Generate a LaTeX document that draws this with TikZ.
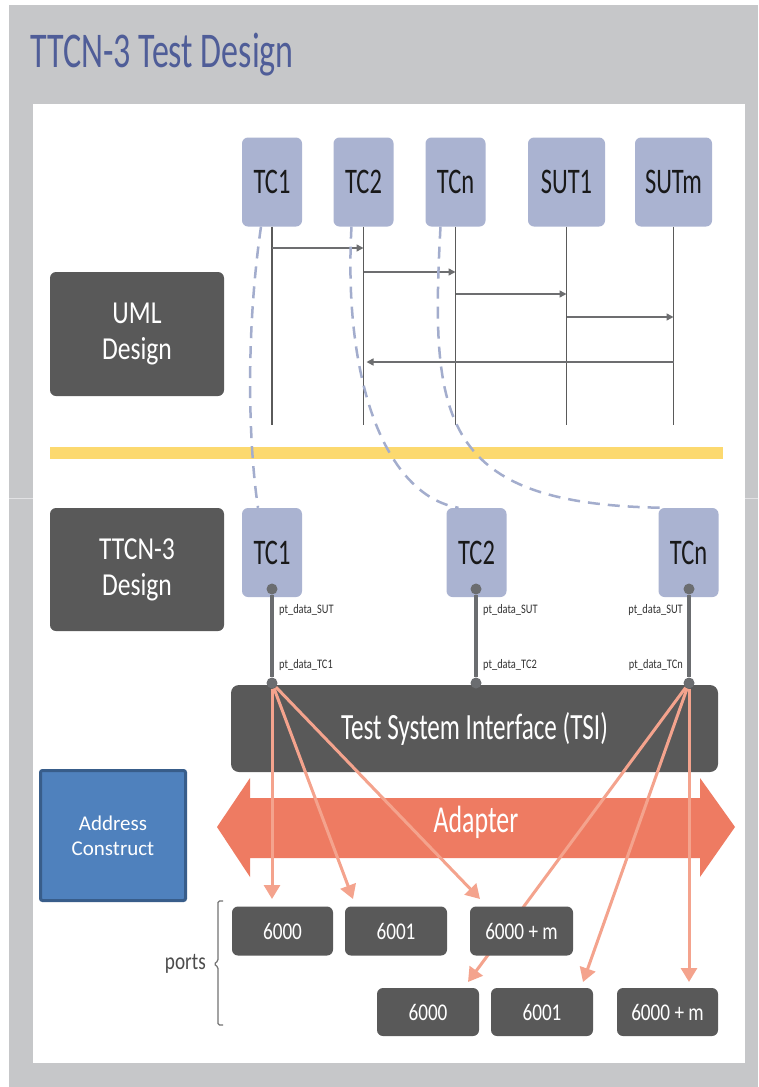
\documentclass[tikz,border=0pt]{standalone}
\usepackage{fontspec}
\setmainfont{Carlito}
\newfontfamily\slidefont[FakeStretch=0.68]{Carlito}
\newfontfamily\labelfont[FakeStretch=0.8]{Carlito}
\usetikzlibrary{arrows.meta}

\definecolor{slidegray}{HTML}{C6C7C9}
\definecolor{seamgray}{HTML}{E2E2E4}
\definecolor{titleblue}{HTML}{4F5D98}
\definecolor{lavender}{HTML}{AAB3D1}
\definecolor{tracelav}{HTML}{A3ADCD}
\definecolor{boxgray}{HTML}{595959}
\definecolor{lifegray}{HTML}{5A5A5A}
\definecolor{msggray}{HTML}{6D6E70}
\definecolor{dotgray}{HTML}{6B6D70}
\definecolor{baryellow}{HTML}{FCD96F}
\definecolor{adapterorange}{HTML}{EE7B62}
\definecolor{salmon}{HTML}{F4A38D}
\definecolor{acblue}{HTML}{4F81BD}
\definecolor{acborder}{HTML}{385D8A}

\tikzset{
  lifebox/.style={fill=lavender, rounded corners=6pt, minimum width=60pt, minimum height=89pt,
    inner sep=0pt, text=black!90, font=\slidefont\fontsize{36}{36}\selectfont},
  sutbox/.style={lifebox, minimum width=77pt},
  layerbox/.style={fill=boxgray, rounded corners=6pt, minimum width=174pt, minimum height=124pt,
    inner sep=0pt, align=center, text=white, font=\labelfont\fontsize{32}{36}\selectfont},
  portbox/.style={fill=boxgray, rounded corners=6pt, minimum width=102pt, minimum height=49pt,
    inner sep=0pt, text=white, font=\labelfont\fontsize{24}{24}\selectfont},
  lifeline/.style={draw=lifegray, line width=1.1pt},
  msg/.style={draw=msggray, line width=1.5pt, -{Triangle[length=7pt,width=7pt]}},
  trace/.style={draw=tracelav, line width=2.5pt, dash pattern=on 12pt off 8pt},
  portdot/.style={circle, fill=dotgray, minimum size=11pt, inner sep=0pt},
  portline/.style={draw=dotgray, line width=3.5pt},
  portlabel/.style={inner sep=0pt, text=black!80, font=\labelfont\fontsize{13}{13}\selectfont},
  portarrow/.style={draw=salmon, line width=3pt, -{Triangle[length=14pt,width=16pt]}}
}

\begin{document}
\begin{tikzpicture}[x=1pt, y=-1pt]
  \useasboundingbox (0,0) rectangle (758,1087);
  \fill[slidegray] (9,5) rectangle (758,1087);
  \fill[white] (33,104) rectangle (745,1063);
  \draw[seamgray, line width=1pt] (9,498) -- (33,498);
  \draw[seamgray, line width=1pt] (745,498) -- (758,498);

  \node[anchor=base west, inner sep=0pt, text=titleblue,
        font=\slidefont\fontsize{50}{50}\selectfont] (title) at (30,67) {TTCN-3 Test Design};

  % UML Design
  \node[layerbox] (uml) at (137,334) {UML\\Design};
  \node[lifebox] (uTC1) at (272,182) {TC1};
  \node[lifebox] (uTC2) at (363.5,182) {TC2};
  \node[lifebox] (uTCn) at (455.5,182) {TCn};
  \node[sutbox] (uSUT1) at (566.5,182) {SUT1};
  \node[sutbox] (uSUTm) at (673.5,182) {SUTm};

  \coordinate (lifeEnd) at (0,425);
  \foreach \l in {uTC1,uTC2,uTCn,uSUT1,uSUTm}
    \draw[lifeline] (\l.south) -- (\l |- lifeEnd);

  \coordinate (m1) at (0,248);
  \coordinate (m2) at (0,272);
  \coordinate (m3) at (0,294);
  \coordinate (m4) at (0,317);
  \coordinate (m5) at (0,362);
  \draw[msg] (uTC1 |- m1) -- (uTC2 |- m1);
  \draw[msg] (uTC2 |- m2) -- (uTCn |- m2);
  \draw[msg] (uTCn |- m3) -- (uSUT1 |- m3);
  \draw[msg] (uSUT1 |- m4) -- (uSUTm |- m4);
  \draw[msg] (uSUTm |- m5) -- ([xshift=3pt]uTC2 |- m5);

  \fill[baryellow] (50,447) rectangle (723,459);

  % TTCN-3 Design
  \node[layerbox, minimum height=123pt] (ttcn) at (137,569.5) {TTCN-3\\Design};
  \node[lifebox] (dTC1) at (272,552.5) {TC1};
  \node[lifebox] (dTC2) at (476.5,552.5) {TC2};
  \node[lifebox] (dTCn) at (688.5,552.5) {TCn};

  % mapping UML -> TTCN-3
  \draw[trace] ([xshift=-11pt]uTC1.south) .. controls (246,330) and (248,440) .. ([xshift=-14pt]dTC1.north);
  \draw[trace] ([xshift=-12pt]uTC2.south) .. controls (343,380) and (385,495) .. ([xshift=-18pt]dTC2.north);
  \draw[trace] ([xshift=-15pt]uTCn.south) .. controls (430,420) and (440,505) .. ([xshift=-23pt]dTCn.north);

  \node[fill=boxgray, rounded corners=8pt, minimum width=487pt, minimum height=87pt, inner sep=0pt,
        text=white, font=\slidefont\fontsize{37}{37}\selectfont] (tsi) at (474.5,728.5) {Test System Interface (TSI)};

  % ports of the test components
  \node[portdot] (pS1) at (272,589) {};
  \node[portdot] (pT1) at (272,683) {};
  \node[portdot] (pS2) at (476,589) {};
  \node[portdot] (pT2) at (476,683) {};
  \node[portdot] (pSn) at (689,589) {};
  \node[portdot] (pTn) at (689,683) {};
  \draw[portline] (pS1) -- (pT1);
  \draw[portline] (pS2) -- (pT2);
  \draw[portline] (pSn) -- (pTn);

  \node[portlabel, anchor=west] (lS1) at (279,610) {pt\_data\_SUT};
  \node[portlabel, anchor=west] (lT1) at (279,665) {pt\_data\_TC1};
  \node[portlabel, anchor=west] (lS2) at (483,610) {pt\_data\_SUT};
  \node[portlabel, anchor=west] (lT2) at (483,665) {pt\_data\_TC2};
  \node[portlabel, anchor=east] (lSn) at (683,610) {pt\_data\_SUT};
  \node[portlabel, anchor=east] (lTn) at (683,665) {pt\_data\_TCn};

  % Adapter
  \fill[adapterorange] (217,827) -- (250,778) -- (250,798) -- (700,798) -- (700,778) -- (735,827)
    -- (700,877) -- (700,858) -- (250,858) -- (250,877) -- cycle;
  \node[text=white, inner sep=0pt, font=\slidefont\fontsize{38}{38}\selectfont] (adapter) at (476,822) {Adapter};

  % address mapping
  \coordinate (hit1) at (272,899);
  \coordinate (hit2) at (353,899);
  \coordinate (hit3) at (480,899);
  \coordinate (hit4) at (468,982);
  \coordinate (hit5) at (583,982);
  \coordinate (hit6) at (689,982);
  \draw[portarrow] (pT1) -- (hit1);
  \draw[portarrow] (pT1) -- (hit2);
  \draw[portarrow] (pT1) -- (hit3);
  \draw[portarrow] (pTn) -- (hit4);
  \draw[portarrow] (pTn) -- (hit5);
  \draw[portarrow] (pTn) -- (hit6);

  \node[portbox, minimum width=101pt] (r1a) at (282.5,931) {6000};
  \node[portbox] (r1b) at (396,931) {6001};
  \node[portbox, minimum width=103pt] (r1c) at (521.5,931) {6000 + m};
  \node[portbox, minimum height=48pt] (r2a) at (428,1012) {6000};
  \node[portbox, minimum height=48pt] (r2b) at (542,1012) {6001};
  \node[portbox, minimum height=48pt, minimum width=101pt] (r2c) at (667.5,1012) {6000 + m};

  \draw[black!55, line width=1.2pt, rounded corners=1.5pt]
    (223,901) -- (218,901) -- (218,961) -- (214,964) -- (218,967) -- (218,1025) -- (223,1025);
  \node[anchor=east, inner sep=0pt, text=black!70, font=\labelfont\fontsize{24}{24}\selectfont] (ports) at (206,964) {ports};

  \node[fill=acblue, draw=acborder, line width=3pt, rounded corners=2pt, minimum width=145pt,
        minimum height=130pt, align=center, text=white, font=\fontsize{21}{25}\selectfont] (addr) at (113,835.5) {Address\\Construct};
\end{tikzpicture}
\end{document}
